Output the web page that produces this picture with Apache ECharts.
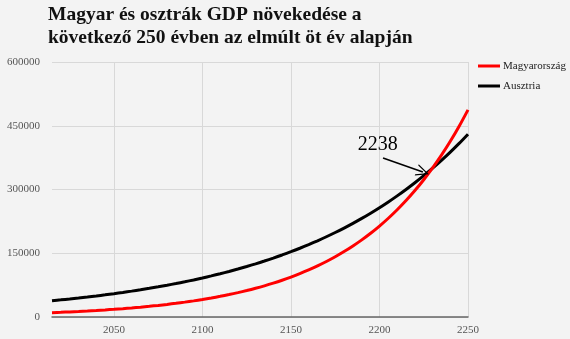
<!DOCTYPE html>
<html><head><meta charset="utf-8">
<script src="https://cdn.jsdelivr.net/npm/echarts@6/dist/echarts.min.js"></script>
<style>html,body{margin:0;padding:0;background:#f3f3f3;}#c{width:570px;height:339px;}</style>
</head><body><div id="c"></div>
<script>
const years = [2015,2020,2025,2030,2035,2040,2045,2050,2055,2060,2065,2070,2075,2080,2085,2090,2095,2100,2105,2110,2115,2120,2125,2130,2135,2140,2145,2150,2155,2160,2165,2170,2175,2180,2185,2190,2195,2200,2205,2210,2215,2220,2225,2230,2235,2240,2245,2250];
const magyar = [10170,11043,11990,13019,14140,15354,16670,18101,19650,21337,23170,25159,27320,29665,32210,34975,37970,41229,44770,48613,52780,57311,62230,67572,73370,79668,86500,93925,101990,110745,120240,130561,141760,153929,167140,181487,197060,213976,232330,252273,273920,297433,322950,350672,380760,413444,448920,487440];
const ausztria = [38300,40322,42450,44692,47050,49534,52150,54904,57800,60852,64070,67453,71020,74770,78720,82876,87250,91857,96710,101816,107190,112850,118810,125083,131690,138643,145970,153677,161790,170333,179330,188799,198770,209265,220320,231953,244200,257094,270670,284961,300010,315851,332530,350088,368580,388041,408530,430200];
const xTicks = [2050,2100,2150,2200,2250];
const yTicks = [0,150000,300000,450000,600000];
const seriesNames = ['Magyarország','Ausztria'];
const titleLines = ['Magyar és osztrák GDP növekedése a','következő 250 évben az elmúlt öt év alapján'];
const annotationText = '2238';

const chart = echarts.init(document.getElementById('c'), null, {renderer:'canvas'});
const font = '"Liberation Serif","DejaVu Serif",serif';
chart.setOption({
  backgroundColor:'#f3f3f3',
  animation:false,
  title:{text:titleLines.join('\n'), left:48, top:3, padding:0,
    textStyle:{fontFamily:font, fontWeight:'bold', fontSize:19.5, lineHeight:23, color:'#111'}},
  legend:{orient:'vertical', left:478, top:60.5, padding:0, itemWidth:22, itemHeight:3, itemGap:9,
    icon:'rect', textStyle:{fontFamily:font, fontSize:11, color:'#222', padding:[0,0,0,-2]},
    data:seriesNames},
  grid:{left:52, right:102, top:62, bottom:22},
  xAxis:{type:'value', min:2015, max:2250,
    axisLine:{show:true, onZero:false, lineStyle:{color:'#666', width:1.5}},
    axisTick:{show:false, customValues:xTicks},
    axisLabel:{customValues:xTicks, formatter:v=>String(v), fontFamily:font, fontSize:11, color:'#555', margin:8},
    splitLine:{show:true, lineStyle:{color:'#d8d8d8', width:1}}},
  yAxis:{type:'value', min:0, max:600000, interval:150000,
    axisLine:{show:false}, axisTick:{show:false},
    axisLabel:{formatter:v=>String(v), fontFamily:font, fontSize:11, color:'#555', margin:12},
    splitLine:{lineStyle:{color:'#d8d8d8', width:1}}},
  series:[
    {name:seriesNames[0], type:'line', smooth:0.3, symbol:'none', color:'#ff0000',
      lineStyle:{width:3, color:'#ff0000'},
      data:years.map((y,i)=>[y,magyar[i]]), z:3},
    {name:seriesNames[1], type:'line', smooth:0.3, symbol:'none', color:'#000',
      lineStyle:{width:3, color:'#000'},
      data:years.map((y,i)=>[y,ausztria[i]]), z:2,
      markPoint:{symbol:'circle', symbolSize:0, silent:true,
        data:[{coord:[2199,406000], label:{show:true, position:'inside', formatter:annotationText,
          fontFamily:font, fontSize:20, color:'#000'}}]},
      markLine:{silent:true, symbol:['none','path://M0,12 L6,0 L12,12 L10.6,12 L6,2.6 L1.4,12 Z'], symbolSize:[12,13],
        lineStyle:{color:'#000', width:1.6, type:'solid'}, label:{show:false},
        data:[[{coord:[2202,374000]},{coord:[2224.5,341000]}]]}}
  ]
});
</script></body></html>
